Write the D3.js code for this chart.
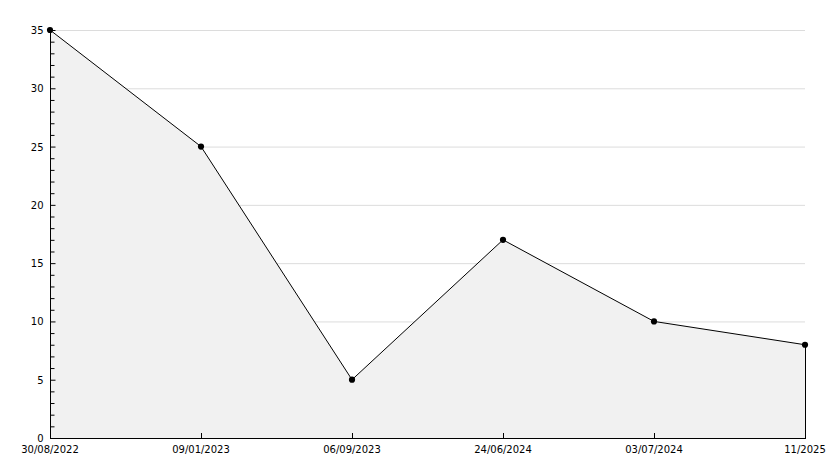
<!DOCTYPE html>
<html><head><meta charset="utf-8">
<script src="https://cdn.jsdelivr.net/npm/d3@7/dist/d3.min.js"></script>
<style>body{margin:0;background:#fff}text{font-family:"DejaVu Sans",sans-serif;font-size:10px;fill:#000}</style>
</head><body><svg id="c" width="834" height="468"></svg>
<script>
const categories = ["30/08/2022","09/01/2023","06/09/2023","24/06/2024","03/07/2024","11/2025"];
const values = [35, 25, 5, 17, 10, 8];
const yTicks = [0, 5, 10, 15, 20, 25, 30, 35];

const svg = d3.select("#c");
const L = 50, R = 805, T = 30, B = 438;
const x = d3.scalePoint().domain(categories).range([L, R]);
const y = d3.scaleLinear().domain([0, 35]).range([B, T]);
const data = categories.map((c, i) => ({c, v: values[i]}));

// grid
svg.append("g").selectAll("line").data(yTicks.filter(t => t > 0)).join("line")
  .attr("x1", L).attr("x2", R).attr("y1", d => y(d) + 0.5).attr("y2", d => y(d) + 0.5)
  .attr("stroke", "#dcdcdc").attr("stroke-width", 1);

// area
svg.append("path").datum(data)
  .attr("d", d3.area().x(d => x(d.c)).y0(B).y1(d => y(d.v)))
  .attr("fill", "#f1f1f1");
svg.append("line").attr("x1", R + 0.5).attr("x2", R + 0.5).attr("y1", y(values[values.length-1])).attr("y2", B)
  .attr("stroke", "#000");

// line
svg.append("path").datum(data)
  .attr("d", d3.line().x(d => x(d.c)).y(d => y(d.v)))
  .attr("fill", "none").attr("stroke", "#000").attr("stroke-width", 1);

// markers
svg.append("g").selectAll("path").data(data).join("path")
  .attr("transform", d => `translate(${x(d.c)},${y(d.v)})`)
  .attr("d", d3.symbol().type(d3.symbolCircle).size(30))
  .attr("fill", "#000");

// y axis
const ya = svg.append("g").attr("transform", `translate(${L + 0.5},0)`);
ya.append("line").attr("y1", T).attr("y2", B + 0.5).attr("stroke", "#000");
const minor = d3.range(0, 36);
ya.selectAll("line.m").data(minor).join("line").attr("class", "m")
  .attr("x1", 0).attr("x2", d => d % 5 === 0 ? 5 : 4)
  .attr("y1", d => y(d) + 0.5).attr("y2", d => y(d) + 0.5).attr("stroke", "#000");
ya.selectAll("text").data(yTicks).join("text")
  .attr("x", -7).attr("y", d => y(d) + 4).attr("text-anchor", "end").text(d => d);

// x axis
const xa = svg.append("g");
xa.append("line").attr("x1", L).attr("x2", R + 1).attr("y1", B + 0.5).attr("y2", B + 0.5).attr("stroke", "#000");
xa.selectAll("line.t").data(categories).join("line").attr("class", "t")
  .attr("x1", d => x(d) + 0.5).attr("x2", d => x(d) + 0.5).attr("y1", B - 5).attr("y2", B)
  .attr("stroke", "#000");
xa.selectAll("text").data(categories).join("text")
  .attr("x", d => x(d)).attr("y", B + 15).attr("text-anchor", "middle").text(d => d);
</script></body></html>
